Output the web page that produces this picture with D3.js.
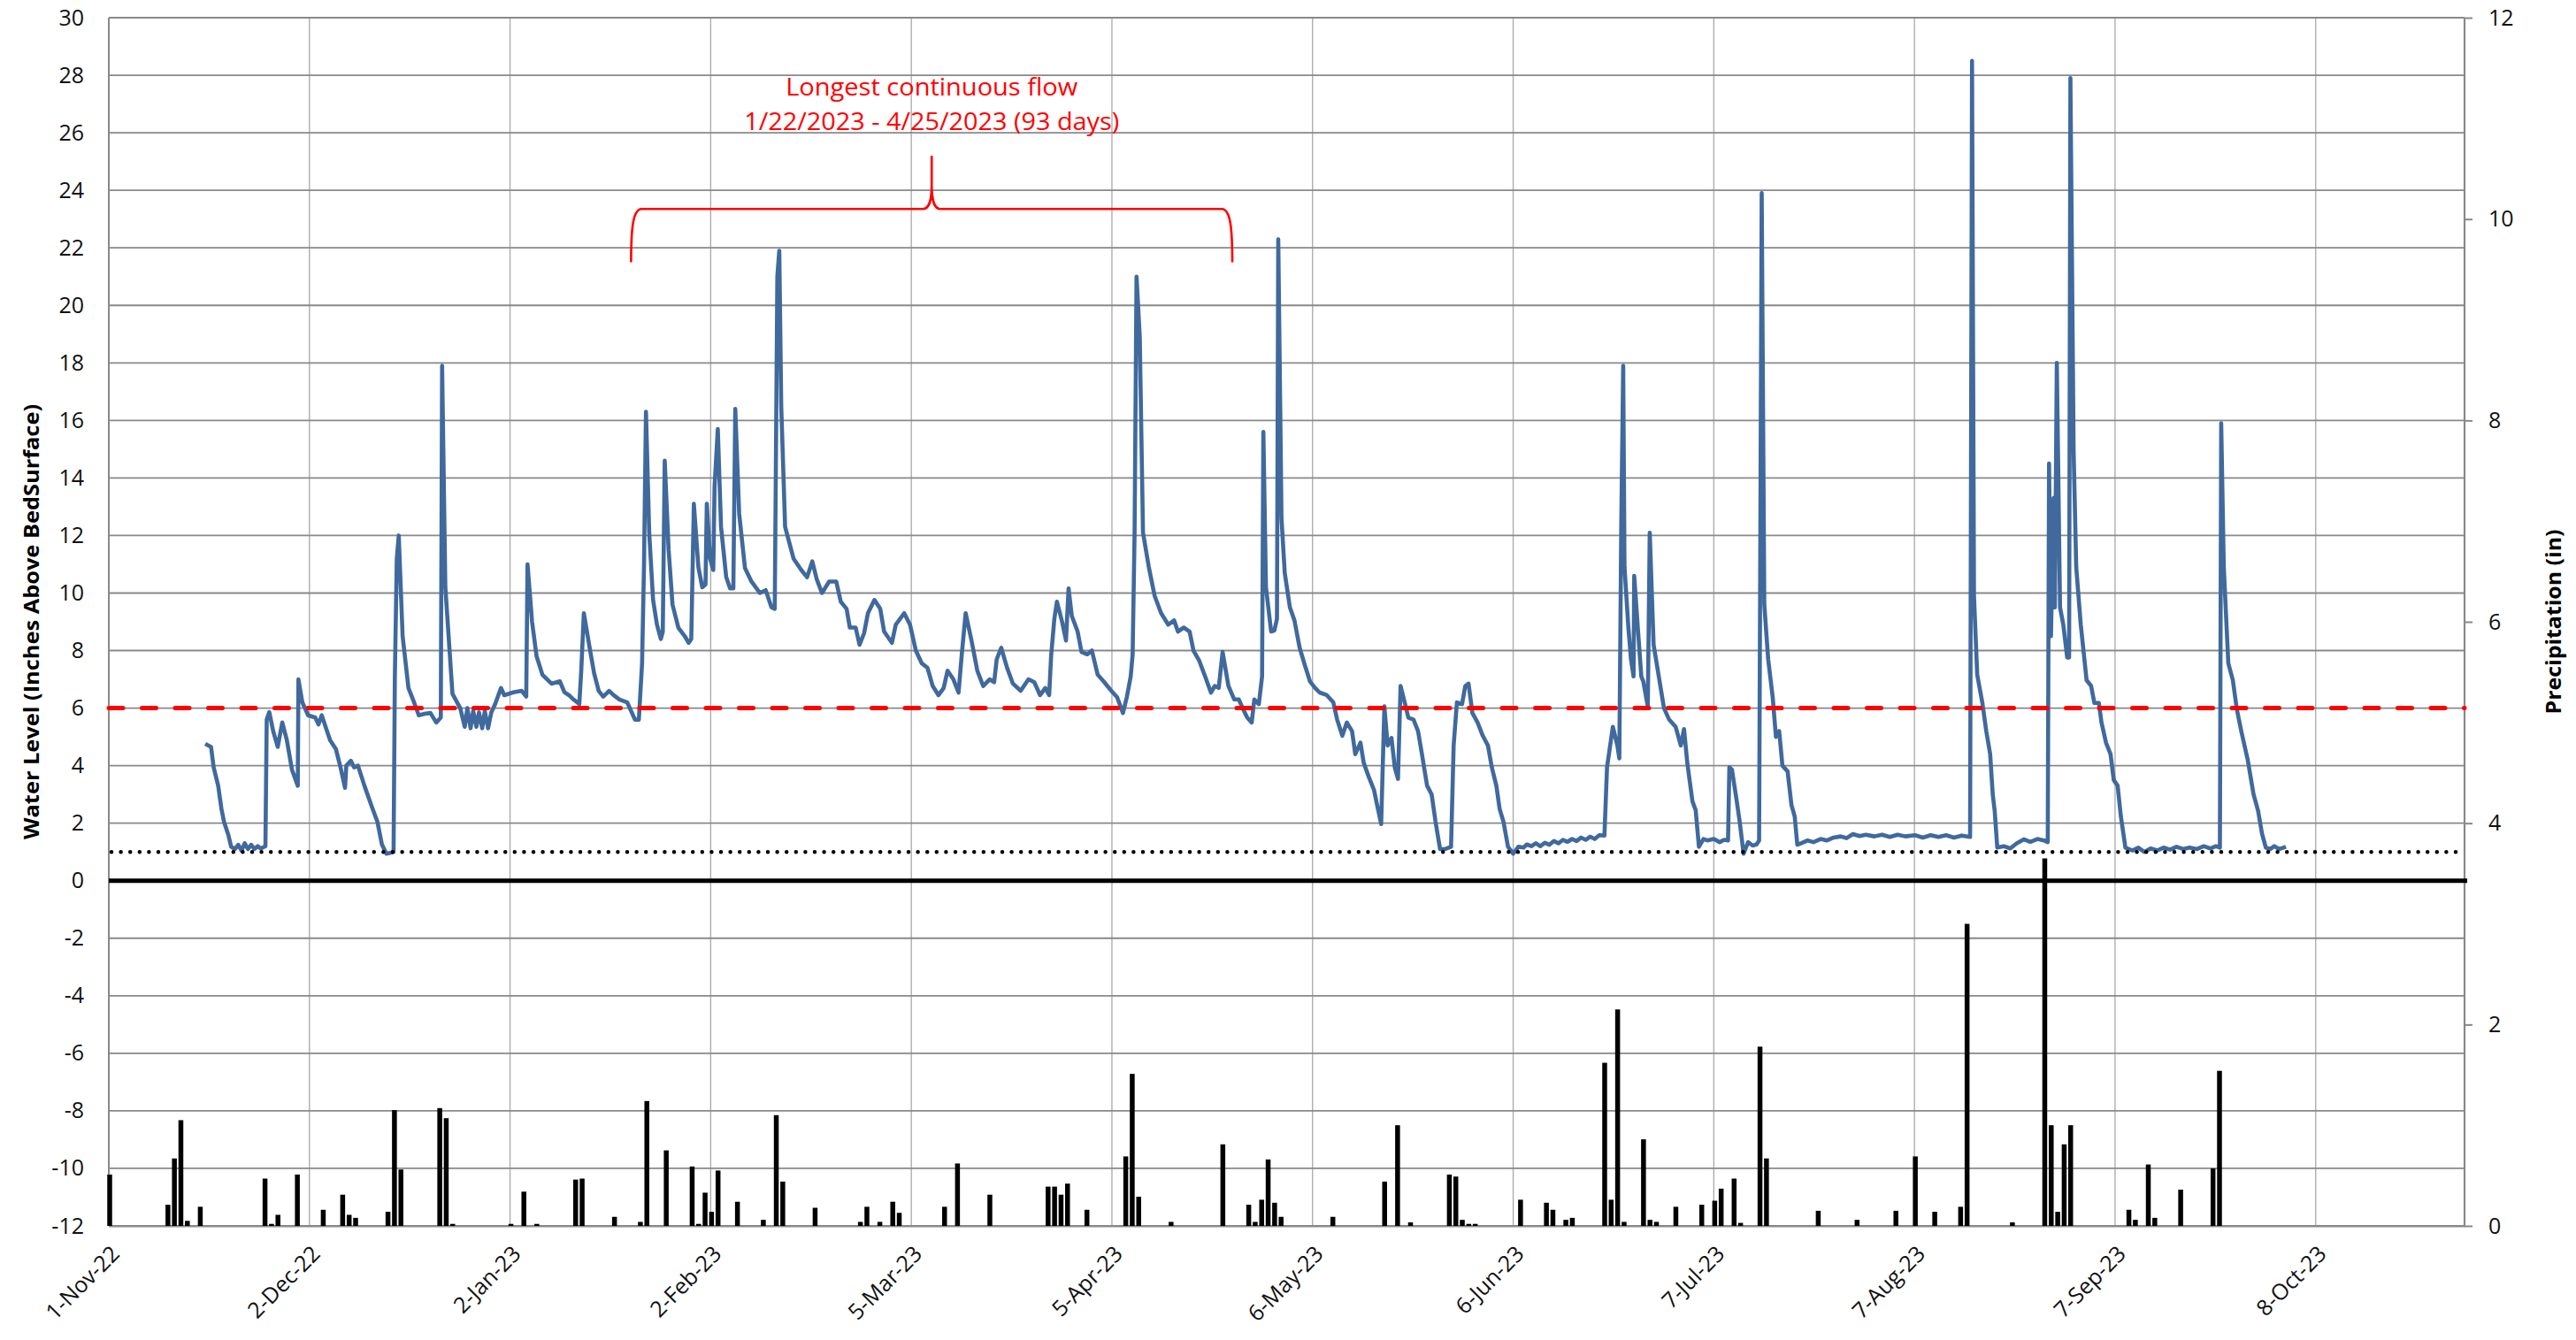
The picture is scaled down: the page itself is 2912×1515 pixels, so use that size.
<!DOCTYPE html>
<html lang="en">
<head>
<meta charset="UTF-8">
<title>Water Level and Precipitation</title>
<script src="https://d3js.org/d3.v7.min.js"></script>
<style>
  body { margin: 0; background: #fff; }
  svg { display: block; font-family: "Open Sans", "Noto Sans", sans-serif; }
</style>
</head>
<body>
<svg id="chart" width="2912" height="1515"></svg>
<script>
// ---- data ----
// days are counted from 1-Nov-2022
const startDay = "2022-11-01";
const endDay = "2023-10-31";
const tickDays = ["2022-11-01", "2022-12-02", "2023-01-02", "2023-02-02", "2023-03-05", "2023-04-05",
                  "2023-05-06", "2023-06-06", "2023-07-07", "2023-08-07", "2023-09-07", "2023-10-08"];
const levelTicks = [-12, -10, -8, -6, -4, -2, 0, 2, 4, 6, 8, 10, 12, 14, 16, 18, 20, 22, 24, 26, 28, 30];
const precipTicks = [0, 2, 4, 6, 8, 10, 12];
const flowThreshold = 6;   // red dashed line
const lowLevel = 1;        // dotted line
const bedLevel = 0;        // solid black line

// water level, [day, inches above bed surface]
const levelReadings = [
  [14.9, 4.76], [15.8, 4.65], [16.2, 3.94], [16.9, 3.3], [17.4, 2.5], [17.8, 2.05], [18.5, 1.57], [18.9, 1.18],
  [19.5, 1.1], [20.0, 1.25], [20.5, 1.05], [21.0, 1.3], [21.5, 1.1], [22.0, 1.25], [22.5, 1.1], [23.0, 1.2],
  [23.5, 1.12], [24.2, 1.2], [24.4, 5.6], [24.8, 5.86], [25.4, 5.2], [26.1, 4.65], [26.8, 5.5], [27.5, 4.9],
  [28.3, 3.86], [29.2, 3.3], [29.3, 7.0], [29.9, 6.2], [30.8, 5.75], [31.9, 5.67], [32.4, 5.43], [32.9, 5.75],
  [34.2, 4.88], [35.1, 4.57], [35.8, 3.94], [36.5, 3.23], [36.7, 4.0], [37.4, 4.17], [37.9, 3.94], [38.5, 4.0],
  [39.5, 3.3], [40.6, 2.6], [41.5, 2.05], [42.2, 1.26], [42.9, 0.94], [44.0, 1.0], [44.2, 7.1], [44.5, 11.2],
  [44.8, 12.0], [45.4, 8.5], [46.3, 6.7], [47.0, 6.3], [47.9, 5.75], [48.8, 5.8], [49.7, 5.83], [50.6, 5.5],
  [51.3, 5.67], [51.5, 17.9], [52.0, 10.2], [53.1, 6.5], [54.3, 6.0], [55.0, 5.35], [55.4, 6.0], [55.9, 5.3],
  [56.3, 5.9], [56.8, 5.35], [57.2, 5.85], [57.7, 5.3], [58.1, 5.9], [58.6, 5.3], [59.1, 5.85], [59.7, 6.14],
  [60.6, 6.7], [61.1, 6.45], [62.5, 6.55], [63.8, 6.6], [64.5, 6.4], [64.7, 11.0], [65.4, 9.0], [66.1, 7.8],
  [67.0, 7.16], [68.4, 6.85], [69.7, 6.93], [70.4, 6.55], [71.1, 6.45], [71.8, 6.3], [72.7, 6.14], [73.0, 7.3],
  [73.4, 9.3], [74.3, 8.1], [75.0, 7.2], [75.7, 6.6], [76.4, 6.4], [77.3, 6.6], [78.0, 6.45], [78.9, 6.3],
  [80.1, 6.2], [81.3, 5.6], [81.9, 5.6], [82.4, 7.56], [82.7, 11.0], [83.0, 16.3], [83.5, 12.1], [84.1, 9.76],
  [84.7, 8.9], [85.3, 8.4], [85.6, 8.66], [85.9, 14.6], [86.5, 11.5], [87.1, 9.6], [88.0, 8.8], [89.0, 8.5],
  [89.6, 8.27], [90.0, 8.4], [90.4, 13.1], [91.1, 10.9], [91.7, 10.2], [92.2, 10.3], [92.4, 13.1], [92.9, 11.2],
  [93.4, 10.8], [93.6, 13.7], [94.1, 15.7], [94.6, 12.3], [95.4, 10.55], [96.0, 10.16], [96.5, 10.16], [96.8, 16.4],
  [97.4, 12.76], [98.3, 10.87], [99.3, 10.4], [100.6, 10.0], [101.5, 10.1], [102.4, 9.5], [102.9, 9.45], [103.3, 21.0],
  [103.6, 21.9], [103.9, 16.5], [104.5, 12.3], [105.8, 11.2], [107.0, 10.8], [107.9, 10.55], [108.7, 11.1], [109.4, 10.47],
  [110.2, 10.0], [111.3, 10.4], [112.4, 10.4], [113.1, 9.7], [114.0, 9.45], [114.5, 8.8], [115.4, 8.8], [116.0, 8.2],
  [116.7, 8.6], [117.3, 9.3], [118.3, 9.76], [119.2, 9.45], [119.8, 8.66], [121.0, 8.27], [121.6, 8.9], [122.9, 9.3],
  [123.8, 8.9], [124.7, 8.0], [125.6, 7.56], [126.5, 7.4], [127.3, 6.77], [128.2, 6.45], [129.0, 6.7], [129.6, 7.3],
  [130.5, 7.0], [131.3, 6.54], [131.8, 7.87], [132.4, 9.3], [133.3, 8.35], [134.2, 7.3], [135.1, 6.77], [136.1, 7.0],
  [136.8, 6.9], [137.2, 7.7], [137.9, 8.1], [138.8, 7.4], [139.7, 6.85], [140.9, 6.6], [142.1, 7.0], [143.0, 6.9],
  [143.9, 6.45], [144.7, 6.7], [145.3, 6.45], [145.6, 7.8], [146.1, 9.1], [146.5, 9.7], [147.3, 9.0], [147.9, 8.35],
  [148.3, 10.16], [148.8, 9.2], [149.7, 8.66], [150.3, 7.95], [151.2, 7.87], [151.9, 8.0], [152.8, 7.16], [153.7, 6.93],
  [154.9, 6.6], [155.8, 6.38], [156.7, 5.83], [157.3, 6.38], [157.9, 7.1], [158.2, 7.87], [158.5, 12.1], [158.8, 21.0],
  [159.3, 18.9], [159.8, 12.1], [160.7, 10.9], [161.6, 9.9], [162.6, 9.3], [163.7, 8.9], [164.6, 9.05], [165.2, 8.66],
  [166.1, 8.8], [167.0, 8.66], [167.6, 8.0], [168.5, 7.64], [169.4, 7.1], [170.3, 6.54], [170.9, 6.77], [171.5, 6.7],
  [172.1, 7.95], [173.0, 6.77], [173.9, 6.3], [174.6, 6.3], [175.4, 5.9], [175.9, 5.67], [176.6, 5.5], [177.0, 6.3],
  [177.7, 6.14], [178.2, 7.1], [178.4, 15.6], [178.8, 10.2], [179.6, 8.66], [180.1, 8.7], [180.5, 9.1], [180.7, 22.3],
  [181.2, 12.6], [181.7, 10.7], [182.5, 9.5], [183.2, 9.05], [184.0, 8.1], [184.8, 7.5], [185.6, 6.93], [186.4, 6.7],
  [187.1, 6.54], [188.2, 6.45], [189.2, 6.2], [189.8, 5.6], [190.6, 5.04], [191.3, 5.5], [192.1, 5.2], [192.6, 4.4],
  [193.4, 4.8], [193.9, 4.1], [194.7, 3.6], [195.5, 3.15], [196.0, 2.6], [196.6, 1.97], [197.1, 6.06], [197.6, 4.7],
  [198.2, 4.96], [198.7, 3.94], [199.2, 3.54], [199.6, 6.77], [200.3, 6.14], [200.8, 5.67], [201.6, 5.6], [202.3, 5.2],
  [202.9, 4.4], [203.7, 3.3], [204.4, 3.0], [205.0, 2.05], [205.7, 1.1], [206.5, 1.1], [207.4, 1.18], [207.8, 4.7],
  [208.3, 6.2], [209.1, 6.14], [209.6, 6.77], [210.1, 6.85], [210.7, 5.83], [211.5, 5.5], [212.3, 5.04], [213.1, 4.7],
  [213.7, 3.94], [214.4, 3.3], [214.9, 2.5], [215.5, 2.05], [216.2, 1.18], [217.0, 0.94], [217.8, 1.18], [218.6, 1.15],
  [219.1, 1.26], [219.8, 1.2], [220.5, 1.3], [221.2, 1.2], [221.9, 1.32], [222.6, 1.25], [223.3, 1.38], [224.0, 1.3],
  [224.7, 1.42], [225.4, 1.35], [226.1, 1.45], [226.8, 1.38], [227.5, 1.5], [228.2, 1.42], [228.9, 1.53], [229.6, 1.45],
  [230.3, 1.58], [231.1, 1.57], [231.5, 3.94], [232.4, 5.35], [233.1, 4.7], [233.4, 4.25], [233.7, 12.4], [234.0, 17.9],
  [234.2, 10.9], [234.8, 8.8], [235.2, 7.7], [235.6, 7.1], [235.7, 10.6], [236.3, 8.66], [236.8, 7.1], [237.1, 6.93],
  [237.8, 6.06], [238.1, 12.1], [238.7, 8.2], [239.5, 7.1], [240.3, 6.0], [241.1, 5.6], [242.1, 5.35], [242.9, 4.7],
  [243.4, 5.27], [243.9, 4.1], [244.7, 2.76], [245.2, 2.45], [245.7, 1.18], [246.4, 1.45], [247.0, 1.4], [248.0, 1.45],
  [248.9, 1.34], [249.6, 1.42], [250.2, 1.4], [250.4, 3.94], [250.8, 3.86], [251.5, 2.83], [252.0, 2.05], [252.6, 0.94],
  [253.3, 1.34], [254.0, 1.22], [254.6, 1.26], [255.0, 1.4], [255.4, 23.9], [255.8, 9.6], [256.4, 7.7], [257.1, 6.37],
  [257.6, 5.0], [258.1, 5.2], [258.6, 4.0], [259.4, 3.8], [260.0, 2.63], [260.5, 2.23], [260.9, 1.25], [261.5, 1.3],
  [262.5, 1.4], [263.4, 1.34], [264.5, 1.45], [265.5, 1.4], [266.5, 1.5], [267.6, 1.54], [268.5, 1.48], [269.5, 1.62],
  [270.5, 1.55], [271.5, 1.6], [272.8, 1.54], [274.0, 1.6], [275.2, 1.52], [276.4, 1.6], [277.6, 1.54], [279.1, 1.58],
  [280.3, 1.5], [281.5, 1.58], [282.7, 1.52], [283.9, 1.58], [285.1, 1.5], [286.3, 1.57], [287.6, 1.52], [287.9, 28.5],
  [288.2, 9.9], [288.7, 7.16], [289.5, 6.18], [290.1, 5.2], [290.7, 4.4], [291.1, 3.0], [291.4, 2.43], [291.8, 1.15],
  [292.8, 1.2], [293.8, 1.12], [294.8, 1.3], [295.9, 1.44], [296.9, 1.35], [298.0, 1.45], [299.0, 1.4], [299.6, 1.34],
  [299.8, 14.5], [300.1, 8.5], [300.5, 13.3], [300.7, 9.5], [301.0, 18.0], [301.5, 9.5], [302.0, 8.9], [302.6, 7.76],
  [302.9, 7.76], [303.1, 27.9], [303.6, 14.9], [304.0, 10.9], [304.7, 8.9], [305.6, 6.97], [306.3, 6.77], [306.8, 6.18],
  [307.5, 6.18], [307.9, 5.5], [308.6, 4.8], [309.3, 4.4], [309.8, 3.5], [310.4, 3.3], [310.9, 2.23], [311.6, 1.15],
  [312.7, 1.05], [313.6, 1.15], [314.5, 1.0], [315.5, 1.12], [316.5, 1.05], [317.5, 1.15], [318.5, 1.08], [319.5, 1.18],
  [320.5, 1.1], [321.5, 1.15], [322.7, 1.1], [323.7, 1.2], [324.7, 1.12], [325.6, 1.2], [326.2, 1.15], [326.4, 15.9],
  [326.8, 10.9], [327.5, 7.56], [328.2, 6.97], [328.8, 5.98], [329.5, 5.2], [330.5, 4.2], [331.4, 3.0], [332.1, 2.43],
  [332.7, 1.64], [333.3, 1.15], [334.0, 1.1], [334.6, 1.2], [335.4, 1.1], [336.4, 1.18]
];

// daily precipitation, [day, inches]
const precipReadings = [
  [0, 0.51], [9, 0.21], [10, 0.67], [11, 1.05], [12, 0.05], [14, 0.19], [24, 0.47], [25, 0.02], [26, 0.11], [29, 0.51],
  [33, 0.16], [36, 0.31], [37, 0.11], [38, 0.08], [43, 0.14], [44, 1.15], [45, 0.56], [51, 1.17], [52, 1.07], [53, 0.02],
  [62, 0.02], [64, 0.34], [66, 0.02], [72, 0.46], [73, 0.47], [78, 0.09], [82, 0.04], [83, 1.24], [86, 0.75], [90, 0.59],
  [91, 0.02], [92, 0.33], [93, 0.14], [94, 0.55], [97, 0.24], [101, 0.06], [103, 1.10], [104, 0.44], [109, 0.18], [116, 0.04],
  [117, 0.19], [119, 0.04], [121, 0.24], [122, 0.13], [129, 0.19], [131, 0.62], [136, 0.31], [145, 0.39], [146, 0.39], [147, 0.31],
  [148, 0.42], [151, 0.16], [157, 0.69], [158, 1.51], [159, 0.29], [164, 0.04], [172, 0.81],
  [176, 0.21], [177, 0.04], [178, 0.26], [179, 0.66], [180, 0.23], [181, 0.09], [189, 0.09], [197, 0.44], [199, 1.00], [201, 0.035],
  [207, 0.51], [208, 0.49], [209, 0.06], [210, 0.02], [211, 0.02], [218, 0.26], [222, 0.23], [223, 0.16], [225, 0.06], [226, 0.08],
  [231, 1.62], [232, 0.26], [233, 2.15], [234, 0.04], [237, 0.86], [238, 0.06], [239, 0.04], [242, 0.19], [246, 0.21], [248, 0.25],
  [249, 0.37], [251, 0.47], [252, 0.03], [255, 1.78], [256, 0.67], [264, 0.15], [270, 0.06], [276, 0.15], [279, 0.69], [282, 0.14],
  [286, 0.19], [287, 3.00], [294, 0.035], [299, 3.65], [300, 1.00], [301, 0.14], [302, 0.81], [303, 1.00], [312, 0.16], [313, 0.06],
  [315, 0.61], [316, 0.08], [320, 0.36], [325, 0.57], [326, 1.54]
];

// the curly bracket over the longest run above the threshold
const flowNote = ["Longest continuous flow", "1/22/2023 - 4/25/2023 (93 days)"];
const braceFromDay = 80.7, braceToDay = 173.6;
const braceLevels = { ends: 21.5, bar: 23.35, tip: 25.2 };

// ---- chart ----
const plot = { left: 123, right: 2786, top: 20, bottom: 1386 };
const svg = d3.select("#chart");

const parseDay = d3.utcParse("%Y-%m-%d");
const start = parseDay(startDay);
const dayToDate = d => new Date(start.getTime() + d * 864e5);

const x = d3.scaleUtc().domain([start, parseDay(endDay)]).range([plot.left, plot.right]);
const y = d3.scaleLinear().domain([-12, 30]).range([plot.bottom, plot.top]);
const yRain = d3.scaleLinear().domain([0, 12]).range([plot.bottom, plot.top]);

const ticks = tickDays.map(parseDay);

// gridlines
svg.append("g")
  .selectAll("line").data(ticks).join("line")
  .attr("x1", d => x(d)).attr("x2", d => x(d))
  .attr("y1", plot.top).attr("y2", plot.bottom)
  .attr("stroke", "#a8a8a8").attr("stroke-width", 1.3);

svg.append("g")
  .selectAll("line").data(levelTicks).join("line")
  .attr("x1", plot.left).attr("x2", plot.right)
  .attr("y1", d => y(d)).attr("y2", d => y(d))
  .attr("stroke", "#898989").attr("stroke-width", 1.8);

// frame sides
svg.append("line")
  .attr("x1", plot.left).attr("x2", plot.left).attr("y1", plot.top).attr("y2", plot.bottom)
  .attr("stroke", "#898989").attr("stroke-width", 2);
svg.append("line")
  .attr("x1", plot.right).attr("x2", plot.right).attr("y1", plot.top).attr("y2", plot.bottom)
  .attr("stroke", "#898989").attr("stroke-width", 2.2);

// left axis (plain hyphen for negatives, like the original)
svg.append("g")
  .attr("transform", `translate(${plot.left},0)`)
  .call(d3.axisLeft(y).tickValues(levelTicks).tickSize(0).tickPadding(28).tickFormat(d => String(d)))
  .call(g => g.select(".domain").remove())
  .attr("font-size", null).attr("font-family", null)
  .selectAll("text").attr("font-size", 25).attr("fill", "#111");

// right axis
svg.append("g")
  .attr("transform", `translate(${plot.right},0)`)
  .call(d3.axisRight(yRain).tickValues(precipTicks).tickSizeInner(9).tickSizeOuter(0).tickPadding(18).tickFormat(d => String(d)))
  .call(g => g.select(".domain").remove())
  .call(g => g.selectAll(".tick line").attr("stroke", "#898989").attr("stroke-width", 2))
  .attr("font-size", null).attr("font-family", null)
  .selectAll("text").attr("font-size", 25).attr("fill", "#111");

// bottom axis, rotated date labels
svg.append("g")
  .attr("transform", `translate(0,${plot.bottom})`)
  .call(d3.axisBottom(x).tickValues(ticks).tickSize(0).tickFormat(d3.utcFormat("%-d-%b-%y")))
  .call(g => g.select(".domain").attr("stroke", "#898989").attr("stroke-width", 2))
  .attr("font-size", null).attr("font-family", null)
  .selectAll("text")
    .attr("font-size", 25).attr("fill", "#111")
    .attr("text-anchor", "end")
    .attr("y", 0).attr("dy", "0.35em")
    .attr("transform", "translate(7,27) rotate(-45)");

// precipitation bars
const barW = 5.5;
svg.append("g")
  .selectAll("rect").data(precipReadings).join("rect")
  .attr("x", d => x(dayToDate(d[0])) - barW / 2 + 1)
  .attr("width", barW)
  .attr("y", d => yRain(d[1]))
  .attr("height", d => yRain(0) - yRain(d[1]))
  .attr("fill", "#000");

// water level
const line = d3.line()
  .x(d => x(dayToDate(d[0])))
  .y(d => y(d[1]));

svg.append("path")
  .datum(levelReadings)
  .attr("d", line)
  .attr("fill", "none")
  .attr("stroke", "#40699d")
  .attr("stroke-width", 4.6)
  .attr("stroke-linejoin", "round");

// reference lines
svg.append("line")
  .attr("x1", plot.left).attr("x2", plot.right)
  .attr("y1", y(flowThreshold)).attr("y2", y(flowThreshold))
  .attr("stroke", "#ff0000").attr("stroke-width", 5)
  .attr("stroke-linecap", "round").attr("stroke-dasharray", "16 21.5");

svg.append("line")
  .attr("x1", plot.left + 3).attr("x2", plot.right - 3)
  .attr("y1", y(lowLevel)).attr("y2", y(lowLevel))
  .attr("stroke", "#000").attr("stroke-width", 4.5)
  .attr("stroke-linecap", "round").attr("stroke-dasharray", "0 10.6");

svg.append("line")
  .attr("x1", plot.left).attr("x2", plot.right + 3)
  .attr("y1", y(bedLevel)).attr("y2", y(bedLevel))
  .attr("stroke", "#000").attr("stroke-width", 5);

// annotation brace
const bx0 = x(dayToDate(braceFromDay)), bx1 = x(dayToDate(braceToDay));
const bxc = (bx0 + bx1) / 2;
const yEnd = y(braceLevels.ends), yBar = y(braceLevels.bar), yTip = y(braceLevels.tip);
const brace = d3.path();
brace.moveTo(bx0, yEnd);
brace.bezierCurveTo(bx0, yEnd - 38, bx0 + 2, yBar, bx0 + 12, yBar);
brace.lineTo(bxc - 10, yBar);
brace.bezierCurveTo(bxc - 3, yBar, bxc, yBar - 8, bxc, yBar - 28);
brace.lineTo(bxc, yTip);
brace.lineTo(bxc, yBar - 28);
brace.bezierCurveTo(bxc, yBar - 8, bxc + 3, yBar, bxc + 10, yBar);
brace.lineTo(bx1 - 12, yBar);
brace.bezierCurveTo(bx1 - 2, yBar, bx1, yEnd - 38, bx1, yEnd);

svg.append("path")
  .attr("d", brace.toString())
  .attr("fill", "none")
  .attr("stroke", "#ff0000")
  .attr("stroke-width", 2.6);

const noteLevels = [27.3, 26.1];
const noteWidths = [330, 424];
svg.append("g")
  .selectAll("text").data(flowNote).join("text")
  .attr("x", bxc)
  .attr("y", (d, i) => y(noteLevels[i]))
  .attr("text-anchor", "middle")
  .attr("font-size", 28)
  .attr("fill", "#ff0000")
  .attr("textLength", (d, i) => noteWidths[i])
  .attr("lengthAdjust", "spacingAndGlyphs")
  .text(d => d);

// axis titles
svg.append("text")
  .attr("transform", `translate(34,${(plot.top + plot.bottom) / 2}) rotate(-90)`)
  .attr("text-anchor", "middle")
  .attr("dominant-baseline", "central")
  .attr("font-size", 24).attr("font-weight", "bold")
  .attr("textLength", 492).attr("lengthAdjust", "spacingAndGlyphs")
  .text("Water Level (Inches Above BedSurface)");

svg.append("text")
  .attr("transform", `translate(2885,${(plot.top + plot.bottom) / 2}) rotate(-90)`)
  .attr("text-anchor", "middle")
  .attr("dominant-baseline", "central")
  .attr("font-size", 24).attr("font-weight", "bold")
  .attr("textLength", 209).attr("lengthAdjust", "spacingAndGlyphs")
  .text("Precipitation (in)");
</script>
</body>
</html>
